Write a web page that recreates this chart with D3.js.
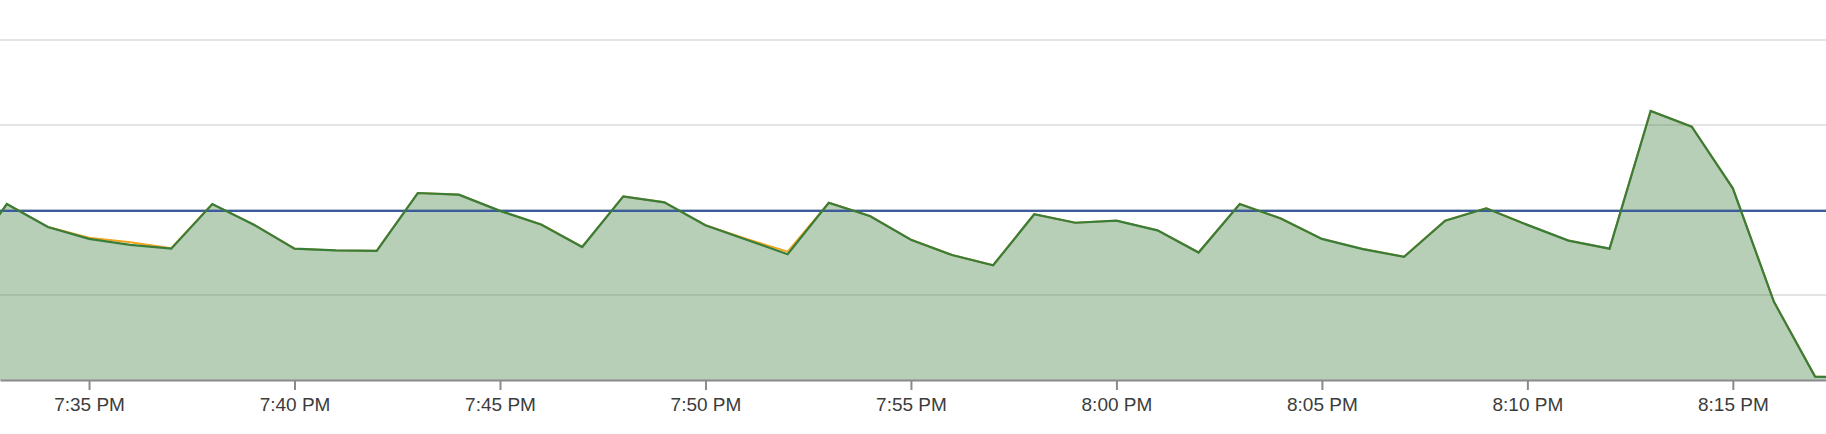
<!DOCTYPE html>
<html>
<head>
<meta charset="utf-8">
<script src="https://cdn.jsdelivr.net/npm/d3@7/dist/d3.min.js"></script>
<style>
  html, body { margin: 0; padding: 0; background: #fff; }
  svg { display: block; }
</style>
</head>
<body>
<svg id="chart" width="1826" height="434"></svg>
<script>
// ---- data ----
const times = ["19:32","19:33","19:34","19:35","19:36","19:37","19:38","19:39","19:40","19:41",
  "19:42","19:43","19:44","19:45","19:46","19:47","19:48","19:49","19:50","19:51",
  "19:52","19:53","19:54","19:55","19:56","19:57","19:58","19:59","20:00","20:01",
  "20:02","20:03","20:04","20:05","20:06","20:07","20:08","20:09","20:10","20:11",
  "20:12","20:13","20:14","20:15","20:16","20:17","20:18"];
const greenValues = [1.39,2.07,1.80,1.66,1.59,1.545,2.07,1.83,1.545,1.525,
  1.52,2.20,2.18,1.99,1.83,1.565,2.16,2.09,1.82,1.65,
  1.48,2.085,1.93,1.65,1.47,1.35,1.95,1.85,1.875,1.76,
  1.50,2.07,1.90,1.66,1.54,1.45,1.875,2.02,1.825,1.64,
  1.545,3.165,2.98,2.255,0.92,0.04,0.025];
const orangeValues = [1.39,2.07,1.80,1.675,1.62,1.55,2.07,1.83,1.545,1.525,
  1.52,2.20,2.18,1.99,1.83,1.565,2.16,2.09,1.82,1.66,
  1.51,2.085,1.93,1.65,1.47,1.35,1.95,1.85,1.875,1.76,
  1.50,2.07,1.90,1.66,1.54,1.45,1.875,2.02,1.825,1.64,
  1.545,3.165,2.98,2.255,0.92,0.04,0.025];
const thresholdValue = 1.99;
const gridValues = [1, 2, 3, 4];
const domainStart = "19:32:50";
const domainEnd = "20:17:16";

// ---- helpers ----
function toDate(s) {
  const p = s.split(":").map(Number);
  return new Date(2024, 0, 1, p[0], p[1], p[2] || 0);
}
const greenData = times.map((t, i) => ({ t: toDate(t), v: greenValues[i] }));
const orangeData = times.map((t, i) => ({ t: toDate(t), v: orangeValues[i] }));

const W = 1826, H = 434;
const svg = d3.select("#chart");

const x = d3.scaleTime().domain([toDate(domainStart), toDate(domainEnd)]).range([0, W]);
const y = d3.scaleLinear().domain([0, 4]).range([380, 40]);

// grid
svg.append("g").selectAll("line").data(gridValues).join("line")
  .attr("x1", 0).attr("x2", W)
  .attr("y1", d => y(d)).attr("y2", d => y(d))
  .attr("stroke", "#e4e4e4").attr("stroke-width", 2);

const lineGen = d3.line().x(d => x(d.t)).y(d => y(d.v));
const areaGen = d3.area().x(d => x(d.t)).y0(y(0)).y1(d => y(d.v));

// orange series (beneath)
svg.append("path").datum(orangeData)
  .attr("d", lineGen).attr("fill", "none")
  .attr("stroke", "#f2a41e").attr("stroke-width", 2).attr("stroke-linejoin", "round");

// green area
svg.append("path").datum(greenData)
  .attr("d", areaGen).attr("fill", "#3b7d3b").attr("fill-opacity", 0.37);

// threshold line
svg.append("line")
  .attr("x1", 0).attr("x2", W)
  .attr("y1", y(thresholdValue)).attr("y2", y(thresholdValue))
  .attr("stroke", "#3b5b9c").attr("stroke-width", 2.2);

// green line
svg.append("path").datum(greenData)
  .attr("d", lineGen).attr("fill", "none")
  .attr("stroke", "#3a7d3a").attr("stroke-width", 2.2).attr("stroke-linejoin", "miter");

// x axis
const axis = d3.axisBottom(x)
  .ticks(d3.timeMinute.every(5))
  .tickFormat(d3.timeFormat("%-I:%M %p"))
  .tickSize(10).tickSizeOuter(0).tickPadding(8);
const gx = svg.append("g").attr("transform", `translate(0,${y(0)})`).call(axis);
gx.select(".domain").attr("stroke", "#8a8a8e").attr("stroke-width", 2);
gx.selectAll(".tick line").attr("stroke", "#8a8a8e").attr("stroke-width", 2);
gx.selectAll(".tick text")
  .attr("fill", "#3c3c3c")
  .style("font-family", "'Liberation Sans', Arial, Helvetica, sans-serif")
  .style("font-size", "19px");
</script>
</body>
</html>
